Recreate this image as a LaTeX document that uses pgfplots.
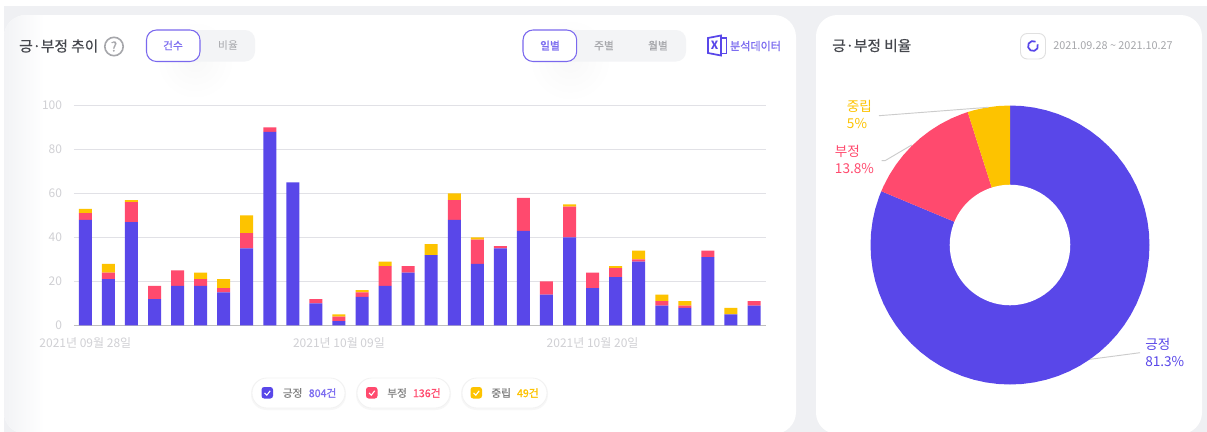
\documentclass[border=0pt]{standalone}
\usepackage{fontspec}
\setmainfont{Noto Sans CJK KR}
\usepackage{pgfplots}
\usepackage{pgfplotstable}
\pgfplotsset{compat=1.18}
\definecolor{cpos}{HTML}{5947E9}
\definecolor{cneg}{HTML}{FF4A6E}
\definecolor{cneu}{HTML}{FDC300}
\definecolor{pagebg}{HTML}{EFF0F3}
\definecolor{btnbg}{HTML}{F3F4F6}
\definecolor{btnline}{HTML}{7A68EE}
\definecolor{lightpurple}{HTML}{7C6CF0}
\definecolor{gridc}{HTML}{E1E1E6}
\definecolor{tickc}{HTML}{D0D0D4}
\definecolor{titlec}{HTML}{45474D}
\definecolor{greyt}{HTML}{A6A7AB}
\pgfplotstableread{
idx pos neg neu
0 48 3 2
1 21 3 4
2 47 9 1
3 12 6 0
4 18 7 0
5 18 3 3
6 15 2 4
7 35 7 8
8 88 2 0
9 65 0 0
10 10 2 0
11 2 2 1
12 13 2 1
13 18 9 2
14 24 3 0
15 32 0 5
16 48 9 3
17 28 11 1
18 35 1 0
19 43 15 0
20 14 6 0
21 40 14 1
22 17 7 0
23 22 4 1
24 29 1 4
25 9 2 3
26 8 1 2
27 31 3 0
28 5 0 3
29 9 2 0
}\datatable
\newcommand{\fpx}[1]{\fontsize{#1}{#1}\selectfont}
\begin{document}
\begin{tikzpicture}[x=0.75pt,y=-0.75pt]
\path[use as bounding box] (0,0) rectangle (1207,432);
\fill[white] (0,0) rectangle (1207,432);
\fill[pagebg] (4,6) rectangle (1207,432);
% cards
\begin{scope}
\clip (0,0) rectangle (1207,432);
\fill[white,rounded corners=16.5pt] (4,15) rectangle (796,434);
\fill[white,rounded corners=16pt] (816,15) rectangle (1202,434);
\begin{scope}
\clip[rounded corners=16.5pt] (4,15) rectangle (796,434);
\shade[left color=pagebg,right color=white] (-6,15) rectangle (44,434);
\shade[inner color=black!2.5,outer color=white] (195,60) circle (40);
\shade[inner color=black!2.5,outer color=white] (570,60) circle (42);
\end{scope}
\end{scope}
% left header
\node[anchor=west,inner sep=0,text=titlec,font=\fpx{11pt}] at (19,46) {\addfontfeature{FakeBold=0.6}긍·부정 추이};
\draw[greyt,line width=1.2pt] (114,46.5) circle (9.2);
\node[text=greyt,inner sep=0,font=\fpx{10pt}] at (114,46.5) {\addfontfeature{FakeBold=0.6}?};
\fill[btnbg,rounded corners=7.5pt] (146,30) rectangle (255,61.5);
\draw[btnline,fill=white,line width=0.8pt,rounded corners=7.5pt] (146.5,30) rectangle (200,61.5);
\node[text=lightpurple,inner sep=0,font=\fpx{8pt}] at (173,45.5) {\addfontfeature{FakeBold=1}건수};
\node[text=greyt,inner sep=0,font=\fpx{8pt}] at (228,45.5) {비율};
\fill[btnbg,rounded corners=7.5pt] (523,30) rectangle (686,61.5);
\draw[btnline,fill=white,line width=0.8pt,rounded corners=7.5pt] (523,30) rectangle (576.7,61.5);
\node[text=lightpurple,inner sep=0,font=\fpx{8pt}] at (550,45.5) {\addfontfeature{FakeBold=1}일별};
\node[text=greyt,inner sep=0,font=\fpx{8pt}] at (604,45.5) {\addfontfeature{FakeBold=0.3}주별};
\node[text=greyt,inner sep=0,font=\fpx{8pt}] at (658,45.5) {\addfontfeature{FakeBold=0.3}월별};
% excel icon
\draw[cpos,line width=1.3pt,line join=miter] (708,38) -- (721,35.5) -- (721,55.5) -- (708,53) -- cycle;
\draw[cpos,line width=1.1pt] (721,38) -- (726.5,38) -- (726.5,53.5) -- (721,53.5);
\node[text=cpos,inner sep=0,font=\bfseries\fpx{8.5pt}] at (714.5,45.5) {X};
\node[text=lightpurple,inner sep=0,font=\fpx{8.3pt}] at (755.5,46) {\addfontfeature{FakeBold=1}분석데이터};
% right header
\node[anchor=west,inner sep=0,text=titlec,font=\fpx{11pt}] at (832,45.5) {\addfontfeature{FakeBold=0.6}긍·부정 비율};
\draw[black!12,fill=white,line width=0.7pt,rounded corners=5pt] (1020.5,33.5) rectangle (1045.5,59);
\draw[cpos,line width=1.3pt] (1033,46) ++(-60:5) arc (-60:-380:5);
\node[anchor=west,inner sep=0,text=greyt,font=\fpx{8.15pt}] at (1053,45.5) {2021.09.28 \textasciitilde{} 2021.10.27};
% bar chart
\begin{axis}[
  at={(55.35pt,-244.05pt)},anchor=south west,
  scale only axis,width=518.8pt,height=165pt,
  ybar stacked,bar width=9.75pt,
  xmin=-0.5,xmax=29.5,ymin=0,ymax=100,
  xtick={0,11,22},
  xticklabels={2021년 09월 28일,2021년 10월 09일,2021년 10월 20일},
  ytick={0,20,40,60,80,100},
  axis x line=bottom,axis y line=left,
  x axis line style={draw=black!25,-},
  y axis line style={draw=none},
  tick style={draw=none},
  ymajorgrids,grid style={gridc,line width=0.8pt},
  ticklabel style={text=tickc,font=\fpx{9pt},/pgf/number format/assume math mode=true},
  yticklabel style={inner sep=0,xshift=-6.5pt},
  xticklabel style={inner sep=0,yshift=-7pt},
]
\addplot[fill=cpos,draw=none] table[x=idx,y=pos] {\datatable};
\addplot[fill=cneg,draw=none] table[x=idx,y=neg] {\datatable};
\addplot[fill=cneu,draw=none] table[x=idx,y=neu] {\datatable};
\end{axis}
% legend pills
\foreach \a/\b in {252/345,357/450,462/547}{
  \fill[black!3,rounded corners=11.5pt] (\a-1,378) rectangle (\b+1,410);
  \draw[black!5,fill=white,line width=0.6pt,rounded corners=11.2pt] (\a,378) rectangle (\b,408);
}
\fill[cpos,rounded corners=2pt] (261.5,387) rectangle (273,398.5);
\draw[white,line width=0.8pt] (264.5,393) -- (266.8,395.2) -- (270.2,390.8);
\node[anchor=west,inner sep=0,text=black!50,font=\fpx{8pt}] at (282.5,393) {\addfontfeature{FakeBold=0.5}긍정};
\node[anchor=west,inner sep=0,text=lightpurple,font=\fpx{8pt}] at (308.5,393) {\addfontfeature{FakeBold=1}804건};
\fill[cneg,rounded corners=2pt] (366,387) rectangle (377.5,398.5);
\draw[white,line width=0.8pt] (369,393) -- (371.3,395.2) -- (374.7,390.8);
\node[anchor=west,inner sep=0,text=black!50,font=\fpx{8pt}] at (387,393) {\addfontfeature{FakeBold=0.5}부정};
\node[anchor=west,inner sep=0,text=cneg,font=\fpx{8pt}] at (412.7,393) {\addfontfeature{FakeBold=1}136건};
\fill[cneu,rounded corners=2pt] (470.5,387) rectangle (482,398.5);
\draw[white,line width=0.8pt] (473.5,393) -- (475.8,395.2) -- (479.2,390.8);
\node[anchor=west,inner sep=0,text=black!50,font=\fpx{8pt}] at (491,393) {\addfontfeature{FakeBold=0.5}중립};
\node[anchor=west,inner sep=0,text=cneu,font=\fpx{8pt}] at (516.7,393) {\addfontfeature{FakeBold=1}49건};
% donut
\begin{axis}[
  at={(757.5pt,-183.75pt)},anchor=center,
  scale only axis,width=209.25pt,height=209.25pt,
  xmin=-140,xmax=140,ymin=-140,ymax=140,hide axis,clip=false,
]
\addplot[data cs=polar,fill=cpos,draw=none] coordinates {(90,0)(90,140)(85,140)(80,140)(75,140)(70,140)(65,140)(60,140)(55,140)(50,140)(45,140)(40,140)(35,140)(30,140)(25,140)(20,140)(15,140)(10,140)(5,140)(0,140)(-5,140)(-10,140)(-15,140)(-20,140)(-25,140)(-30,140)(-35,140)(-40,140)(-45,140)(-50,140)(-55,140)(-60,140)(-65,140)(-70,140)(-75,140)(-80,140)(-85,140)(-90,140)(-95,140)(-100,140)(-105,140)(-110,140)(-115,140)(-120,140)(-125,140)(-130,140)(-135,140)(-140,140)(-145,140)(-150,140)(-155,140)(-160,140)(-165,140)(-170,140)(-175,140)(-180,140)(-185,140)(-190,140)(-195,140)(-200,140)(-202.68,140)(-202.68,0)} \closedcycle;
\addplot[data cs=polar,fill=cneg,draw=none] coordinates {(157.32,0)(157.32,140)(155,140)(150,140)(145,140)(140,140)(135,140)(130,140)(125,140)(120,140)(115,140)(110,140)(107.64,140)(107.64,0)} \closedcycle;
\addplot[data cs=polar,fill=cneu,draw=none] coordinates {(107.64,0)(107.64,140)(105,140)(100,140)(95,140)(90,140)(90,0)} \closedcycle;
\addplot[data cs=polar,fill=white,draw=none] coordinates {(0,60.5)(5,60.5)(10,60.5)(15,60.5)(20,60.5)(25,60.5)(30,60.5)(35,60.5)(40,60.5)(45,60.5)(50,60.5)(55,60.5)(60,60.5)(65,60.5)(70,60.5)(75,60.5)(80,60.5)(85,60.5)(90,60.5)(95,60.5)(100,60.5)(105,60.5)(110,60.5)(115,60.5)(120,60.5)(125,60.5)(130,60.5)(135,60.5)(140,60.5)(145,60.5)(150,60.5)(155,60.5)(160,60.5)(165,60.5)(170,60.5)(175,60.5)(180,60.5)(185,60.5)(190,60.5)(195,60.5)(200,60.5)(205,60.5)(210,60.5)(215,60.5)(220,60.5)(225,60.5)(230,60.5)(235,60.5)(240,60.5)(245,60.5)(250,60.5)(255,60.5)(260,60.5)(265,60.5)(270,60.5)(275,60.5)(280,60.5)(285,60.5)(290,60.5)(295,60.5)(300,60.5)(305,60.5)(310,60.5)(315,60.5)(320,60.5)(325,60.5)(330,60.5)(335,60.5)(340,60.5)(345,60.5)(350,60.5)(355,60.5)} \closedcycle;
\end{axis}
% leader lines and labels
\draw[black!20,line width=0.7pt] (879,115.7) -- (988.3,107.3);
\draw[black!20,line width=0.7pt] (881.7,160.7) -- (885,160.7) -- (911.7,145);
\draw[black!20,line width=0.7pt] (1090,359.3) -- (1140,352.7);
\node[anchor=west,inner sep=0,text=cneu,font=\fpx{10.2pt}] at (846.7,106) {중립};
\node[anchor=west,inner sep=0,text=cneu,font=\fpx{10.2pt}] at (846.7,124) {5\%};
\node[anchor=west,inner sep=0,text=cneg,font=\fpx{10.2pt}] at (834.7,151) {부정};
\node[anchor=west,inner sep=0,text=cneg,font=\fpx{10.2pt}] at (834.7,169) {13.8\%};
\node[anchor=west,inner sep=0,text=cpos,font=\fpx{10.2pt}] at (1145,344) {긍정};
\node[anchor=west,inner sep=0,text=cpos,font=\fpx{10.2pt}] at (1145,362) {81.3\%};
\end{tikzpicture}
\end{document}
